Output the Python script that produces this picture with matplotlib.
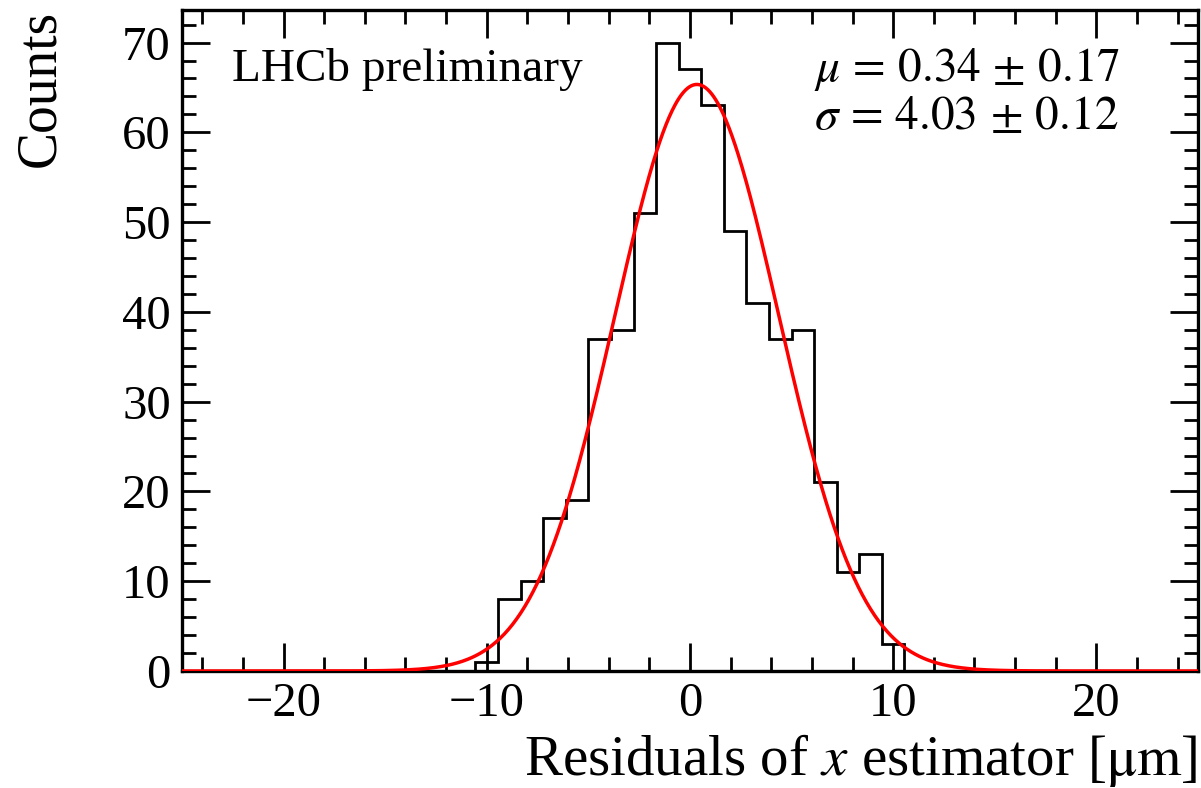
import numpy as np
import matplotlib
matplotlib.use("Agg")
import matplotlib.pyplot as plt
from matplotlib.ticker import MultipleLocator

plt.rcParams['font.family'] = ['Liberation Serif', 'DejaVu Serif']
plt.rcParams['mathtext.fontset'] = 'stix'

# Histogram of residuals: 45 bins of equal width over [-25, 25]
bin_edges = np.linspace(-25, 25, 46)
first_filled_bin = 13
counts = [1, 8, 10, 17, 19, 37, 38, 51, 70, 67, 63, 49, 41, 37, 38, 21, 11, 13, 3]

# Gaussian fit result
fit_mu = 0.34
fit_mu_err = 0.17
fit_sigma = 4.03
fit_sigma_err = 0.12

all_counts = np.zeros(len(bin_edges) - 1)
all_counts[first_filled_bin:first_filled_bin + len(counts)] = counts
bin_width = bin_edges[1] - bin_edges[0]

fig = plt.figure(figsize=(12.01, 7.88), dpi=100)
ax = fig.add_axes([0.1515, 0.1485, 0.846, 0.8385])

ax.stairs(all_counts, bin_edges, color='black', linewidth=2.0)

xs = np.linspace(-25, 25, 1000)
norm = all_counts.sum() * bin_width / (fit_sigma * np.sqrt(2 * np.pi))
ax.plot(xs, norm * np.exp(-0.5 * ((xs - fit_mu) / fit_sigma) ** 2),
        color='#ff0000', linewidth=2.5, zorder=3)

ax.set_xlim(-25, 25)
ax.set_ylim(0, 73.6)
ax.xaxis.set_major_locator(MultipleLocator(10))
ax.xaxis.set_minor_locator(MultipleLocator(2))
ax.yaxis.set_major_locator(MultipleLocator(10))
ax.yaxis.set_minor_locator(MultipleLocator(2))
ax.tick_params(which='both', direction='in', top=True, right=True,
               labelsize=35, width=2)
ax.tick_params(which='major', length=20, pad=8)
ax.tick_params(which='minor', length=10)
for s in ax.spines.values():
    s.set_linewidth(2.4)

ax.set_xlabel(r'Residuals of $x$ estimator [$\mathrm{\mu m}$]', fontsize=41,
              ha='right', x=1.0, labelpad=4)
ax.set_ylabel('Counts', fontsize=40, ha='right', y=1.0, labelpad=40)

ax.text(0.049, 0.91, 'LHCb preliminary', transform=ax.transAxes,
        fontsize=34, va='center', ha='left')
ax.text(0.622, 0.91, rf'$\mu\,=\,{fit_mu:.2f}\,\pm\,{fit_mu_err:.2f}$',
        transform=ax.transAxes, fontsize=34, va='center', ha='left')
ax.text(0.622, 0.838, rf'$\sigma\,=\,{fit_sigma:.2f}\,\pm\,{fit_sigma_err:.2f}$',
        transform=ax.transAxes, fontsize=34, va='center', ha='left')

fig.savefig('out.png', dpi=100)
